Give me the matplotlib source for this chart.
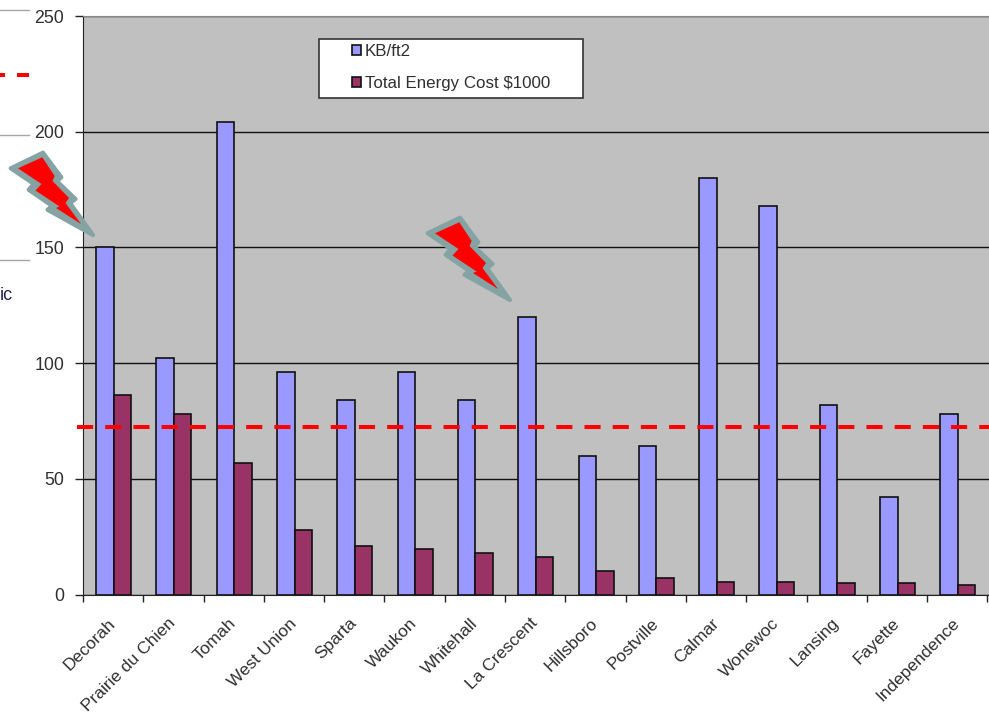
import matplotlib
matplotlib.use("Agg")
import matplotlib.pyplot as plt
from matplotlib.lines import Line2D
from matplotlib.patches import Polygon, Rectangle
import numpy as np

towns = ["Decorah", "Prairie du Chien", "Tomah", "West Union", "Sparta", "Waukon",
         "Whitehall", "La Crescent", "Hillsboro", "Postville", "Calmar", "Wonewoc",
         "Lansing", "Fayette", "Independence"]
kb_ft2 = [150, 102, 204, 96, 84, 96, 84, 120, 60, 64, 180, 168, 82, 42, 78]
energy_cost = [86, 78, 57, 28, 21, 19.5, 18, 16, 10, 7, 5.5, 5.5, 5, 5, 4]
average_line = 72.2
y_ticks = [0, 50, 100, 150, 200, 250]

W, H = 989, 716
TEXT = "#303030"
plt.rcParams["font.family"] = ["Liberation Sans", "DejaVu Sans"]

fig = plt.figure(figsize=(W / 100, H / 100), dpi=100)
ax = fig.add_axes([83 / W, 1 - 594.5 / H, (W - 83) / W, (594.5 - 16) / H])
ax.set_facecolor("#c0c0c0")

x = np.arange(len(towns))
bar_w = 0.29
ax.bar(x - bar_w / 2 + 0.008, kb_ft2, bar_w, color="#9999ff", edgecolor="#111111", lw=1.2,
       label="KB/ft2", zorder=3)
ax.bar(x + bar_w / 2 + 0.008, energy_cost, bar_w, color="#993366", edgecolor="#111111", lw=1.2,
       label="Total Energy Cost $1000", zorder=3)

ax.set_xlim(-0.5, 14.525)
ax.set_ylim(0, 250)
ax.set_yticks(y_ticks)
ax.tick_params(axis="y", length=6, width=1, color="#222222", labelsize=12.8,
               labelcolor=TEXT, pad=7.5)
ax.grid(axis="y", color="#111111", lw=1, zorder=1)
ax.set_axisbelow(True)

# ticks sit between the categories, labels hang off the group centres
ax.set_xticks(np.arange(-0.5, 15, 1))
ax.set_xticklabels([])
ax.tick_params(axis="x", length=5, width=1, color="#222222")
for i, name in enumerate(towns):
    ax.annotate(name, (i, 0), xytext=(0, -19), textcoords="offset points",
                xycoords="data", rotation=45, rotation_mode="anchor",
                ha="right", va="center", fontsize=12.5, color=TEXT,
                annotation_clip=False)

ax.spines["right"].set_visible(False)
ax.spines["top"].set_color("#888888")
ax.spines["left"].set_color("#222222")
ax.spines["bottom"].set_color("#222222")

# dashed average line, starts just left of the axis
ax.plot([-6 / 906, 1], [average_line, average_line], color="#ff0000", lw=2.9,
        dashes=(4, 3), dash_capstyle="butt", clip_on=False, zorder=5,
        transform=ax.get_yaxis_transform())


def px(points):
    return [(a / W, 1 - b / H) for a, b in points]


# legend box is wider than its content, so frame and entries are separate
box = (319, 38.5, 264, 59)
fig.add_artist(Rectangle((box[0] / W, 1 - (box[1] + box[3]) / H), box[2] / W, box[3] / H,
                         transform=fig.transFigure, facecolor="white", edgecolor="#333333",
                         lw=1.2, zorder=6))
leg = ax.legend(loc="center", bbox_to_anchor=(box[0] / W, 1 - (box[1] + box[3]) / H + 0.0005, box[2] / W, box[3] / H),
                bbox_transform=fig.transFigure, frameon=False, fontsize=12.2, labelcolor=TEXT,
                handlelength=0.55, handleheight=0.55, handletextpad=0.2, labelspacing=1.0,
                borderaxespad=0, borderpad=0)
fig.add_artist(leg)
ax.legend_ = None
leg.set_zorder(7)

# lightning bolts: grey outline with the red body on top
bolt_outline = [(10.7, 168.3), (43, 152.7), (61.3, 177.3), (57, 181.3), (75.5, 199), (70, 203),
                (93, 235), (47.5, 209.8), (52, 205.8), (28.7, 189.8), (33.7, 183.8)]
bolt_body = [(18, 168.3), (42.3, 157.3), (54.7, 176), (52.5, 181), (69, 198), (65.5, 203),
             (81, 224), (56, 208), (59.5, 206.5), (35.5, 190.5), (41.5, 184)]
for dx, dy in ((0, 0), (417, 65)):
    fig.add_artist(Polygon(px([(a + dx, b + dy) for a, b in bolt_outline]), closed=True,
                           transform=fig.transFigure, facecolor="#86a3a3", edgecolor="#86a3a3",
                           lw=3.0, joinstyle="round", zorder=10))
    fig.add_artist(Polygon(px([(a + dx, b + dy) for a, b in bolt_body]), closed=True,
                           transform=fig.transFigure, facecolor="#ff0000", edgecolor="none",
                           zorder=11))

# remains of the neighbouring chart along the left edge
for y in (10, 135, 260):
    fig.add_artist(Line2D([0, 29 / W], [1 - y / H] * 2, color="#a6a6a6", lw=1))
for a, b in ((0, 5), (17, 29)):
    fig.add_artist(Line2D([a / W, b / W], [1 - 75 / H] * 2, color="#ff0000", lw=2.9,
                          solid_capstyle="butt"))
fig.text(0 / W, 1 - 296 / H, "ic", fontsize=13, color="#1f1f5c", ha="left", va="center")

fig.savefig("out.png", dpi=100)
